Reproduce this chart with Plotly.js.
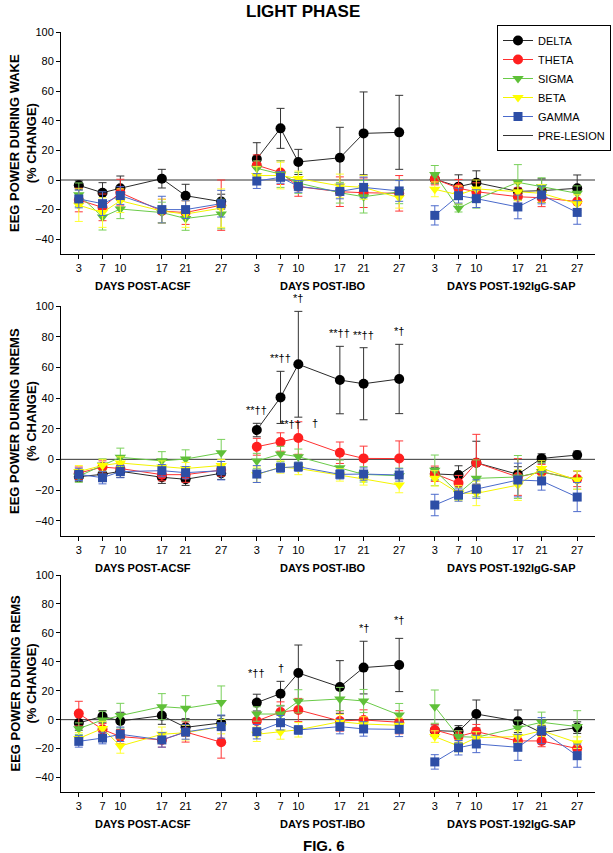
<!DOCTYPE html>
<html>
<head>
<meta charset="utf-8">
<script src="https://cdn.plot.ly/plotly-3.0.1.min.js"></script>
<style>html,body{margin:0;padding:0;background:#fff;}#chart{width:613px;height:853px;}</style>
</head>
<body>
<div id="chart"></div>
<script>
// ---------------- DATA ----------------
const days = [3, 7, 10, 17, 21, 27];
const groupLabels = ['DAYS POST-ACSF', 'DAYS POST-IBO', 'DAYS POST-192IgG-SAP'];
const bands = ['DELTA', 'THETA', 'SIGMA', 'BETA', 'GAMMA'];
const preLesionLabel = 'PRE-LESION';
const preLesion = 0;
const yTicks = [-40, -20, 0, 20, 40, 60, 80, 100];
const panelTitles = ['EEG POWER DURING WAKE', 'EEG POWER DURING NREMS', 'EEG POWER DURING REMS'];
const unitLabel = '(% CHANGE)';
const chartTitle = 'LIGHT PHASE';
const figLabel = 'FIG. 6';

// each array: ACSF(6) | IBO(6) | 192IgG-SAP(6)
// WAKE
const wakeDelta    = [-3.6,-8.6,-5.6,0.9,-10.6,-14.6,  14.2,34.9,12.2,15,31.5,32.2,  0.5,-4.5,-1.8,-7.7,-7.2,-5.6];
const wakeDeltaErr = [3,6.8,8.3,6.3,7.7,5,             11,13.5,8.5,20.6,28,25,      3,8,8,6,8,9];
const wakeTheta    = [-13.5,-18.5,-8.5,-21,-22,-17,    10,5,-4.5,-7.9,-8.6,-9,      0.7,-5.6,-7.9,-11.3,-12,-14.6];
const wakeThetaErr = [8,9,9,8,8,17,                    7,8,6.5,10,10,12,            4,6,6,6,6,6];
const wakeSigma    = [-10,-25,-19.6,-22,-26,-23,       7.9,4,-2,-8.6,-11.3,-8,      3.8,-19.1,-13,-1.6,-4.5,-9];
const wakeSigmaErr = [8,8.8,6.5,7,8,10,                5,9,7,7,11,8,                6,2.5,6,12,6,5];
const wakeBeta     = [-17,-22,-14,-21,-23,-19,         3,3,1,-4,-5,-12,             -6.3,-10,-6,-8,-9,-16];
const wakeBetaErr  = [11,10,8,8,9,13,                  6,9,5,8,8,7,                 5,6,6,6,6,6];
const wakeGamma    = [-12.8,-16,-10.5,-20,-20,-16,     -0.7,1.8,-4.3,-7.7,-5,-7.4,  -23.9,-10.6,-12.6,-18.2,-10.1,-21.9];
const wakeGammaErr = [6,8,6,9,6,9,                     5,4,4,5,7,7,                 6.5,5,6,8,6,8];

// NREMS
const nremsDelta    = [-11.3,-9.8,-7.8,-11.7,-13,-9.1, 19.1,40.4,62,51.7,49.3,52.4,  -9.5,-10.2,-2.2,-9.8,0.6,2.8];
const nremsDeltaErr = [3,4,4,4,4,4,                     4.4,17,34.5,22,23.5,22.6,    4,6,14,5,3,2.6];
const nremsTheta    = [-9,-5,-6,-10,-10,-7,             8.2,11.3,13.9,4.3,0.6,0.5,   -9.4,-15.5,-2.2,-11.5,-8.3,-12.8];
const nremsThetaErr = [4,4,4,4,5,4,                     5.5,6,10.6,7,8,11.5,         5,5,18.5,12,5,5];
const nremsSigma    = [-11,-3.7,1.3,-1,0.2,4.3,         -1.1,3.5,1.7,-5.5,-9.8,-10.7, -7.2,-22.2,-12.4,-11.5,-8,-13.5];
const nremsSigmaErr = [4,4,6,6,6,8.7,                   5,5,5,5,5,5,                 10,4,12,14,6,6];
const nremsBeta     = [-8,-4,-2.4,-5,-6,-4,             -10,-5,-6,-10.2,-12.8,-16.8, -12.4,-22,-22.2,-16.8,-5.9,-13.5];
const nremsBetaErr  = [4,4,4,4,4,4,                     5,4,4,4,4,5,                 5,5,8,10,5,6];
const nremsGamma    = [-9.8,-12,-8,-7.4,-8.7,-7.4,      -9.6,-5.4,-4.8,-9.8,-9.6,-10.2, -29.8,-23.3,-19.4,-13.5,-14.1,-24.6];
const nremsGammaErr = [4,4,4,4,4,6,                     5.5,3,3,3,4,4,               7,4,6,11,6,9.5];

// REMS
const remsDelta    = [-2.3,2.3,-0.9,2.8,-5.3,-2.3,     11.8,18,32.3,22.6,36,37.8,   -7.6,-8.1,3.9,-1.1,-9,-5.5];
const remsDeltaErr = [5,4,6,6,6,5,                     5.8,8.5,19.3,18.2,18.2,18.4, 4,4,9.7,7.8,5,4];
const remsTheta    = [4.2,-6.7,-11.7,-14,-8.5,-15.6,   -0.9,5.3,6.7,-0.9,-0.2,-1.8, -7.1,-11.7,-8.3,-14.7,-14.7,-20];
const remsThetaErr = [8.5,4,5,5,7,11,                  6,7,8,7,7,8,                 4,4,5,4,4,4];
const remsSigma    = [-6.2,-0.2,2.8,9,7.9,11.8,        3.9,3.9,12.7,14.3,12.9,3.2,  9,-11.7,-12.2,-5.8,-1.8,-4.8];
const remsSigmaErr = [4,6,8.5,9,8.7,11.5,              5,6,8,8,8,8,                 11.5,4,4,5,7,11];
const remsBeta     = [-13,-6.1,-18.2,-10.1,-9,-4.8,    -10.1,-8.5,-7,-1.4,-3,-3.9,  -11.7,-18.2,-12.4,-11.7,-7.6,-15.9];
const remsBetaErr  = [4,5,5,5,5,5,                     5,5,5,5,5,5,                 4,4,4,4,4,4];
const remsGamma    = [-15,-12.7,-10.1,-14,-8.5,-4.8,   -8.3,-2.1,-7.1,-4.8,-6.4,-6.7, -29.2,-19.4,-16.8,-19.1,-7.6,-24.9];
const remsGammaErr = [4,4,5,5,5,8,                     5,5,3,5,5,5,                 5,5,6,9,9,8];

// significance labels (one per point)
const E6 = ['', '', '', '', '', ''];
const nremsDeltaSig = [...E6, '**††','**††','*†','**††','**††','*†', ...E6];
const nremsThetaSig = [...E6, '','**††','†','','','', ...E6];
const remsDeltaSig  = [...E6, '*††','†','','','*†','*†', ...E6];

// ---------------- LAYOUT / STYLE ----------------
const groupOffsets = [0, 30, 60];
const xRange = [0, 90];
const yRange = [-50, 100];
const H = 853, W = 613, ML = 61, MR = 18;
const pxDomain = [[32, 254], [306, 536], [575, 792]];
const domains = pxDomain.map(d => [1 - d[1] / H, 1 - d[0] / H]);
const groupLabelX = [13.8, 44.2, 76];
const FONT = 'Liberation Sans, Arial, Helvetica, sans-serif';

const bandStyle = {
  DELTA: {marker: '#000000', line: '#2a2a2a', err: '#333333', symbol: 'circle', size: 10},
  THETA: {marker: '#ff1f1f', line: '#ff3030', err: '#ff3838', symbol: 'circle', size: 10},
  SIGMA: {marker: '#5fc038', line: '#6acb48', err: '#79d05a', symbol: 'triangle-down', size: 10},
  BETA:  {marker: '#ffff00', line: '#f4f400', err: '#ffff30', symbol: 'triangle-down', size: 10},
  GAMMA: {marker: '#2d4ea6', line: '#4a6acb', err: '#4d6bcc', symbol: 'square', size: 9}
};
const sigShift = {
  'NREMS-THETA-7': {xshift: 10, yshift: 1},
  'NREMS-THETA-10': {xshift: 17, yshift: -9},
  'REMS-DELTA-3': {xshift: 0, yshift: 13},
  'REMS-DELTA-27': {xshift: 0, yshift: 10}
};

const panels = [
  {key: 'WAKE', series: {DELTA: [wakeDelta, wakeDeltaErr], THETA: [wakeTheta, wakeThetaErr], SIGMA: [wakeSigma, wakeSigmaErr], BETA: [wakeBeta, wakeBetaErr], GAMMA: [wakeGamma, wakeGammaErr]}, sig: {}},
  {key: 'NREMS', series: {DELTA: [nremsDelta, nremsDeltaErr], THETA: [nremsTheta, nremsThetaErr], SIGMA: [nremsSigma, nremsSigmaErr], BETA: [nremsBeta, nremsBetaErr], GAMMA: [nremsGamma, nremsGammaErr]}, sig: {DELTA: nremsDeltaSig, THETA: nremsThetaSig}},
  {key: 'REMS', series: {DELTA: [remsDelta, remsDeltaErr], THETA: [remsTheta, remsThetaErr], SIGMA: [remsSigma, remsSigmaErr], BETA: [remsBeta, remsBetaErr], GAMMA: [remsGamma, remsGammaErr]}, sig: {DELTA: remsDeltaSig}}
];

// x positions for the 18 points (with gaps between groups)
const xFlat = [];
groupOffsets.forEach(o => days.forEach(d => xFlat.push(d + o)));
function withGaps(arr) {
  const out = [];
  for (let g = 0; g < 3; g++) {
    out.push(...arr.slice(g * 6, g * 6 + 6));
    if (g < 2) out.push(null);
  }
  return out;
}
const xGapped = withGaps(xFlat);
const tickText = [];
groupOffsets.forEach(() => days.forEach(d => tickText.push(String(d))));

const traces = [];
const annotations = [];
const layout = {
  width: W, height: H,
  margin: {l: ML, r: MR, t: 0, b: 0, pad: 0},
  paper_bgcolor: '#ffffff', plot_bgcolor: '#ffffff',
  font: {family: FONT, size: 11, color: '#000'},
  showlegend: true,
  legend: {
    x: (497 - ML) / (W - ML - MR), xanchor: 'left',
    y: 1 - 25 / H, yanchor: 'top',
    bordercolor: '#000', borderwidth: 1, bgcolor: '#fff',
    font: {family: FONT, size: 11, color: '#000'},
    tracegroupgap: 0
  },
  annotations: annotations
};

panels.forEach((p, i) => {
  const sfx = i === 0 ? '' : String(i + 1);
  const xa = 'x' + sfx, ya = 'y' + sfx;
  layout['xaxis' + sfx] = {
    domain: [0, 1], range: xRange, anchor: ya,
    tickmode: 'array', tickvals: xFlat, ticktext: tickText,
    ticks: 'outside', ticklen: 4, tickcolor: '#000', tickwidth: 1,
    showline: true, linecolor: '#000', linewidth: 1,
    showgrid: false, zeroline: false, fixedrange: true,
    tickfont: {family: FONT, size: 11, color: '#000'}
  };
  layout['yaxis' + sfx] = {
    domain: domains[i], range: yRange, anchor: xa,
    tickmode: 'array', tickvals: yTicks,
    ticks: 'outside', ticklen: 4, tickcolor: '#000', tickwidth: 1,
    showline: true, linecolor: '#000', linewidth: 1,
    showgrid: false, zeroline: false, fixedrange: true,
    tickfont: {family: FONT, size: 11, color: '#000'}
  };
  // pre-lesion baseline
  traces.push({
    type: 'scatter', mode: 'lines', name: preLesionLabel,
    x: xRange.slice(), y: [preLesion, preLesion],
    xaxis: xa, yaxis: ya,
    line: {color: '#333333', width: 1},
    showlegend: i === 0, legendrank: 6, hoverinfo: 'skip'
  });
  bands.forEach((b, bi) => {
    const st = bandStyle[b];
    const [mean, err] = p.series[b];
    traces.push({
      type: 'scatter', mode: 'lines+markers', name: b,
      x: xGapped, y: withGaps(mean),
      xaxis: xa, yaxis: ya,
      line: {color: st.line, width: 1},
      marker: {color: st.marker, symbol: st.symbol, size: st.size, line: {width: 0}},
      error_y: {type: 'data', array: withGaps(err), visible: true, color: st.err, thickness: 1, width: 4},
      showlegend: i === 0, legendrank: bi + 1, connectgaps: false, cliponaxis: false
    });
    const sig = p.sig[b];
    if (sig) {
      sig.forEach((t, k) => {
        if (!t) return;
        const key = p.key + '-' + b + '-' + days[k % 6];
        const sh = sigShift[key] || {xshift: 0, yshift: 5};
        annotations.push({
          xref: xa, yref: ya, x: xFlat[k], y: mean[k] + err[k],
          text: t, showarrow: false, xanchor: 'center', yanchor: 'bottom',
          xshift: sh.xshift, yshift: sh.yshift,
          font: {family: FONT, size: 11, color: '#000'}
        });
      });
    }
  });
  // group labels
  groupLabels.forEach((g, gi) => {
    annotations.push({
      xref: xa, yref: 'paper', x: groupLabelX[gi], y: domains[i][0],
      text: '<b>' + g + '</b>', showarrow: false, xanchor: 'center', yanchor: 'top', yshift: -24,
      font: {family: FONT, size: 11, color: '#000'}
    });
  });
  // y title
  annotations.push({
    xref: 'paper', yref: 'paper', x: (23 - ML) / (W - ML - MR), y: (domains[i][0] + domains[i][1]) / 2,
    text: '<b>' + panelTitles[i] + '<br>' + unitLabel + '</b>', showarrow: false,
    textangle: -90, xanchor: 'center', yanchor: 'middle',
    font: {family: FONT, size: 13, color: '#000'}
  });
});

annotations.push({
  xref: 'paper', yref: 'paper', x: (303 - ML) / (W - ML - MR), y: 1,
  text: '<b>' + chartTitle + '</b>', showarrow: false, xanchor: 'center', yanchor: 'top', yshift: 0,
  font: {family: FONT, size: 17, color: '#000'}
});
annotations.push({
  xref: 'paper', yref: 'paper', x: (324 - ML) / (W - ML - MR), y: 1 - 845 / H,
  text: '<b>' + figLabel + '</b>', showarrow: false, xanchor: 'center', yanchor: 'middle',
  font: {family: FONT, size: 15, color: '#000'}
});

Plotly.newPlot('chart', traces, layout, {displayModeBar: false, staticPlot: true});
</script>
</body>
</html>
